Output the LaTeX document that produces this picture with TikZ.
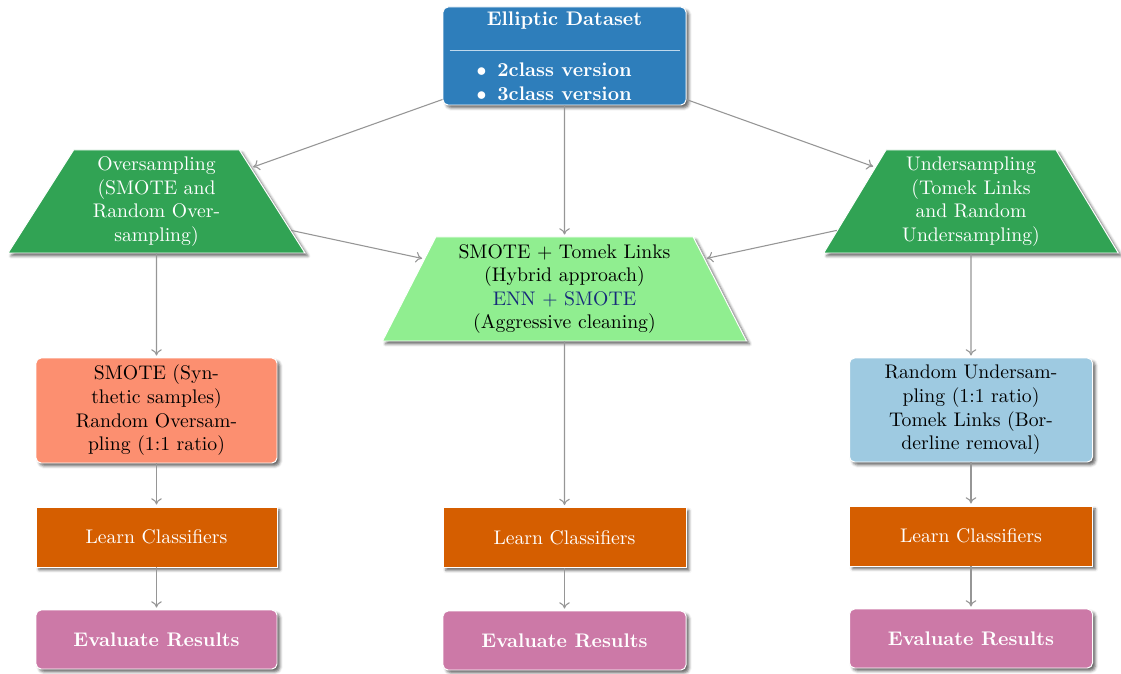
\documentclass[tikz,border=0pt]{standalone}
\usetikzlibrary{shapes.geometric,arrows.meta,shadows.blur}

% one drawing unit
\newdimen\pxu \pxu=0.5075pt

\definecolor{dsblue}{RGB}{46,126,187}
\definecolor{samplegreen}{RGB}{49,163,84}
\definecolor{hybridgreen}{RGB}{144,238,144}
\definecolor{oversalmon}{RGB}{252,143,112}
\definecolor{underblue}{RGB}{158,202,225}
\definecolor{learnorange}{RGB}{213,94,0}
\definecolor{evalpink}{RGB}{204,121,167}
\definecolor{ennblue}{RGB}{22,42,122}
\definecolor{linkgray}{RGB}{150,150,150}
\definecolor{rulecol}{RGB}{190,216,236}

\tikzset{
  shade/.style={blur shadow={shadow xshift=1.5pt, shadow yshift=-1.5pt,
      shadow blur radius=1.4pt, shadow opacity=60}},
  card/.style={shade, draw=white, line width=0.5pt, inner sep=1pt,
      align=center, minimum width=241\pxu},
  roundcard/.style={card, rounded corners=2.6pt},
  trapbox/.style={shade, trapezium, trapezium stretches=true, draw=white,
      line width=0.5pt, inner sep=1pt, align=center},
  link/.style={draw=linkgray, line width=0.55pt,
      -{To[length=3.2pt,width=5.4pt]}, shorten >=1pt},
}

\begin{document}
\begin{tikzpicture}[x=\pxu, y=-\pxu]
\useasboundingbox (0,0) rectangle (1121,674);

% source data set
\node[roundcard, fill=dsblue, text=white, minimum width=243\pxu,
      minimum height=98\pxu, inner sep=0pt] (data) at (564.5,56)
{\begin{minipage}{230\pxu}
  {\centering\textbf{Elliptic Dataset}\par}
  \vspace{1pt}
  \noindent{\color{rulecol}\rule{\linewidth}{0.5pt}}\par
  \vspace{0.9pt}
  \hspace*{27\pxu}$\bullet$\hspace{11\pxu}\textbf{2class version}\par
  \hspace*{27\pxu}$\bullet$\hspace{11\pxu}\textbf{3class version}\par
\end{minipage}};

% resampling strategies
\node[trapbox, fill=samplegreen, text=white, trapezium angle=61,
      minimum width=297\pxu, minimum height=103\pxu] (over) at (156.5,201.5)
  {Oversampling\\(SMOTE and\\Random Over-\\sampling)};
\node[trapbox, fill=samplegreen, text=white, trapezium angle=61,
      minimum width=295\pxu, minimum height=103\pxu] (under) at (971,201.5)
  {Undersampling\\(Tomek Links\\and Random\\Undersampling)};
\node[trapbox, fill=hybridgreen, trapezium angle=64.5,
      minimum width=364\pxu, minimum height=104\pxu] (hyb) at (564.5,289)
  {SMOTE + Tomek Links\\(Hybrid approach)\\
   \textcolor{ennblue}{ENN + SMOTE}\\(Aggressive cleaning)};

% concrete methods
\node[roundcard, fill=oversalmon, minimum height=105\pxu] (smote) at (156.5,410.5)
  {SMOTE (Syn-\\thetic samples)\\Random Oversam-\\pling (1:1 ratio)};
\node[roundcard, fill=underblue, minimum width=243\pxu, minimum height=104\pxu]
  (rus) at (971,410)
  {Random Undersam-\\pling (1:1 ratio)\\Tomek Links (Bor-\\derline removal)};

% training
\node[card, fill=learnorange, text=white, minimum height=60\pxu] (learnL) at (156.5,537)
  {Learn Classifiers};
\node[card, fill=learnorange, text=white, minimum width=243\pxu,
      minimum height=60\pxu] (learnC) at (564.5,537.5) {Learn Classifiers};
\node[card, fill=learnorange, text=white, minimum width=243\pxu,
      minimum height=60\pxu] (learnR) at (971,536) {Learn Classifiers};

% evaluation
\node[roundcard, fill=evalpink, text=white, minimum height=59\pxu] (evalL) at (156.5,639.5)
  {\textbf{Evaluate Results}};
\node[roundcard, fill=evalpink, text=white, minimum width=243\pxu,
      minimum height=59\pxu] (evalC) at (564.5,640.5) {\textbf{Evaluate Results}};
\node[roundcard, fill=evalpink, text=white, minimum width=243\pxu,
      minimum height=59\pxu] (evalR) at (971,638.5) {\textbf{Evaluate Results}};

% connectors
\draw[link] (data) -- (over);
\draw[link] (data) -- (hyb);
\draw[link] (data) -- (under);
\draw[link] (over) -- (hyb);
\draw[link] (under) -- (hyb);
\draw[link] (over) -- (smote);
\draw[link] (under) -- (rus);
\draw[link] (hyb) -- (learnC);
\draw[link] (smote) -- (learnL);
\draw[link] (rus) -- (learnR);
\draw[link] (learnL) -- (evalL);
\draw[link] (learnC) -- (evalC);
\draw[link] (learnR) -- (evalR);
\end{tikzpicture}
\end{document}
